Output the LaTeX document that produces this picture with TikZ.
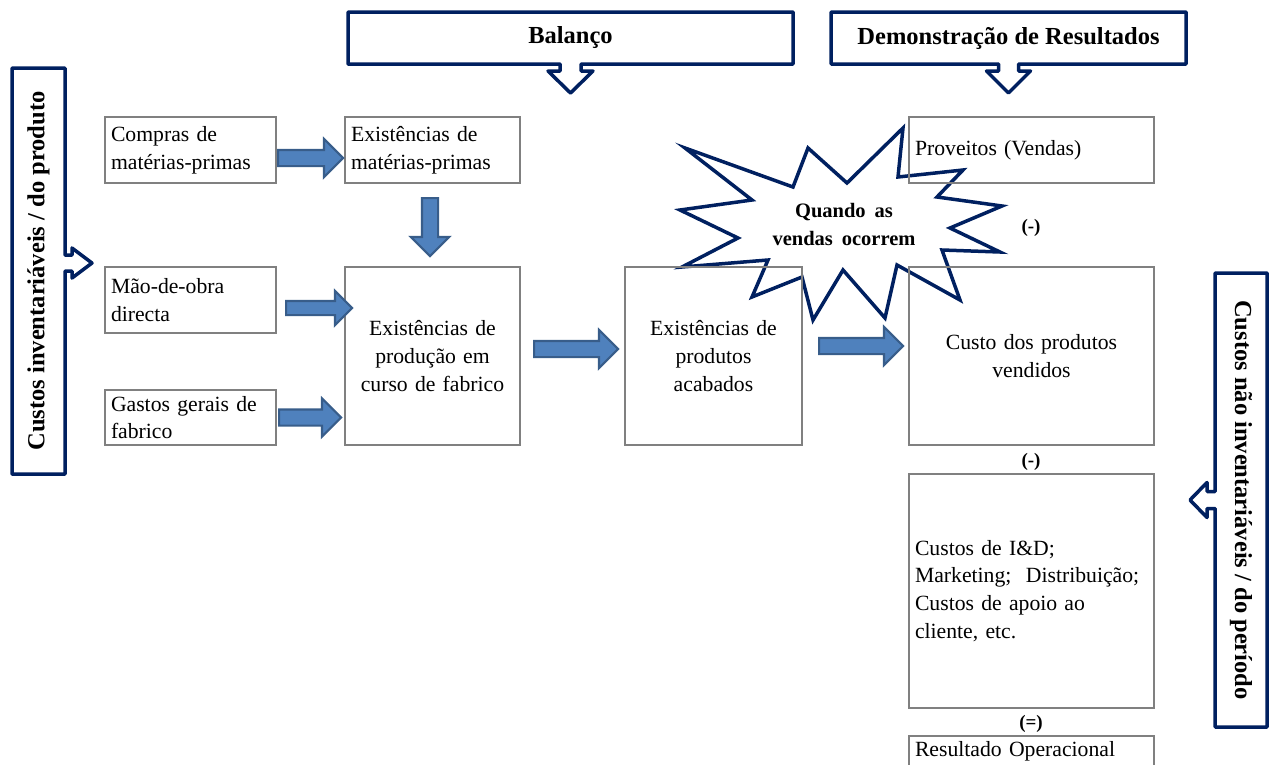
\documentclass[tikz,border=0pt]{standalone}
\usepackage{fontspec}
\setmainfont{Liberation Serif}
\usetikzlibrary{shapes.arrows,calc}
\definecolor{navy}{RGB}{0,32,96}
\definecolor{boxgray}{RGB}{128,128,128}
\definecolor{arrowfill}{RGB}{79,129,189}
\definecolor{arrowline}{RGB}{56,93,138}
\newcommand\boxfont{\fontsize{21.7}{27.8}\selectfont}
\newcommand\titlefont{\fontsize{24.5}{29}\selectfont\bfseries}

\begin{document}
\begin{tikzpicture}[x=1pt,y=-1pt,
  box/.style={draw=boxgray, line width=1.8pt, outer sep=0pt, inner xsep=6pt,
    inner ysep=0pt, font=\boxfont},
  leftbox/.style={box, align=left},
  midbox/.style={box, align=center},
  title/.style={outer sep=0pt, inner sep=0pt, font=\titlefont},
  callout/.style={draw=navy, line width=3.5pt, line join=round, fill=white},
  barrow/.style={single arrow, draw=arrowline, fill=arrowfill, line width=2.2pt,
    inner xsep=0pt, inner ysep=7pt, single arrow head extend=11pt,
    minimum width=0pt},
  sign/.style={font=\fontsize{19}{22}\selectfont\bfseries, inner sep=0pt},
]
\useasboundingbox (0,0) rectangle (1272,764);

% ---- sales burst ----
\filldraw[draw=navy, fill=white, line width=3.5pt, line join=miter]
  (685,148) -- (793,187) -- (808,148) -- (847,183) -- (903,128) -- (898,177)
  -- (963,170) -- (937,197) -- (1002,206) -- (950,228) -- (1000,252)
  -- (942,250) -- (960,300) -- (897,265) -- (885,318) -- (843,270)
  -- (813,320) -- (802,277) -- (752,297) -- (768,260) -- (682,267)
  -- (738,238) -- (680,210) -- (752,200) -- cycle;
\node[font=\fontsize{20.5}{28}\selectfont\bfseries, align=center, inner sep=0pt]
  (qv) at (844,224) {Quando\hspace{9pt}as\\vendas\hspace{9pt}ocorrem};

% ---- headers ----
\node[title, minimum width=445pt, minimum height=52pt] (bal) at (570.5,38) {};
\draw[callout] (bal.south west) |- (bal.north east) |- ($(bal.south)+(10.5,0)$)
  -- ++(0,7) -- ++(12,0) -- ($(bal.south)+(0,29)$) -- ($(bal.south)+(-22.5,7)$)
  -- ++(12,0) -- ($(bal.south)+(-10.5,0)$) -- cycle;
\node[title] at (bal) {Balanço};

\node[title, minimum width=355pt, minimum height=52pt] (dem) at (1008.5,38) {};
\draw[callout] (dem.south west) |- (dem.north east) |- ($(dem.south)+(10,0)$)
  -- ++(0,7) -- ++(12,0) -- ($(dem.south)+(0,29)$) -- ($(dem.south)+(-22,7)$)
  -- ++(12,0) -- ($(dem.south)+(-10,0)$) -- cycle;
\node[title] at (dem) {Demonstração de Resultados};

\node[title, minimum width=53pt, minimum height=406pt] (lft) at (38.5,271) {};
\draw[callout] (lft.north east) -- ($(lft.east)+(0,-16)$) -- ++(7,0) -- ++(0,-7)
  -- ($(lft.east)+(27,-8)$) -- ($(lft.east)+(7,7)$) -- ++(0,-7)
  -- ($(lft.east)+(0,0)$) -- (lft.south east) -| (lft.north west) -- cycle;
\node[title, rotate=90] at (lft) {Custos inventariáveis / do produto};

\node[title, minimum width=52pt, minimum height=454pt] (rgt) at (1241,500) {};
\draw[callout] (rgt.north west) -- ($(rgt.west)+(0,-8.5)$) -- ++(-8,0) -- ++(0,-9)
  -- ($(rgt.west)+(-25,0)$) -- ($(rgt.west)+(-8,17.5)$) -- ++(0,-9)
  -- ($(rgt.west)+(0,8.5)$) -- (rgt.south west) -| (rgt.north east) -- cycle;
\node[title, rotate=-90] at (rgt) {Custos não inventariáveis / do período};

% ---- cost boxes ----
\node[leftbox, text width=159pt, minimum height=66pt] (cmp) at (190.5,150)
  {Compras de\\matérias-primas};
\node[leftbox, text width=163pt, minimum height=66pt] (emp) at (432.5,150)
  {Existências de\\matérias-primas};
\node[leftbox, text width=159pt, minimum height=66pt] (mob) at (190.5,300)
  {Mão-de-obra\\directa};
\node[leftbox, text width=159pt, minimum height=55pt] (ggf) at (190.5,417.5)
  {Gastos gerais de\\fabrico};
\node[midbox, text width=163pt, minimum height=178pt] (prod) at (432.5,356)
  {Existências de\\produção em\\curso de fabrico};
\node[midbox, text width=165pt, minimum height=178pt] (acab) at (713.5,356)
  {Existências de\\produtos\\acabados};

% ---- income statement ----
\node[leftbox, text width=233pt, minimum height=66pt] (prov) at (1031.5,150)
  {Proveitos (Vendas)};
\node[midbox, text width=233pt, minimum height=178pt] (cpv) at (1031.5,356)
  {Custo dos produtos\\vendidos};
\node[leftbox, text width=233pt, minimum height=234pt] (out) at (1031.5,591)
  {Custos de I\&D;\\Marketing;\ \ Distribuição;\\Custos de apoio ao\\cliente, etc.};
\node[leftbox, text width=233pt, minimum height=30pt] (res) at (1031.5,751)
  {Resultado Operacional};

\node[sign] (s1) at (1031,228) {(-)};
\node[sign] (s2) at (1031,462) {(-)};
\node[sign] (s3) at (1031,724) {(=)};

% ---- flows ----
\node[barrow, minimum height=65pt, anchor=tail] (f1) at ([xshift=1pt,yshift=-8pt]cmp.east) {};
\node[barrow, minimum height=58pt, rotate=-90, anchor=tail] (f2)
  at ([xshift=-2.5pt,yshift=-14pt]emp.south) {};
\node[barrow, minimum height=66pt, inner ysep=6pt, single arrow head extend=10pt, anchor=tail] (f3)
  at ([xshift=9pt,yshift=-8pt]mob.east) {};
\node[barrow, minimum height=62pt, anchor=tail] (f4) at ([xshift=2pt]ggf.east) {};
\node[barrow, minimum height=84pt, anchor=tail] (f5) at ([xshift=13pt,yshift=7pt]prod.east) {};
\node[barrow, minimum height=84pt, anchor=tail] (f6) at ([xshift=16pt,yshift=10pt]acab.east) {};
\end{tikzpicture}
\end{document}
